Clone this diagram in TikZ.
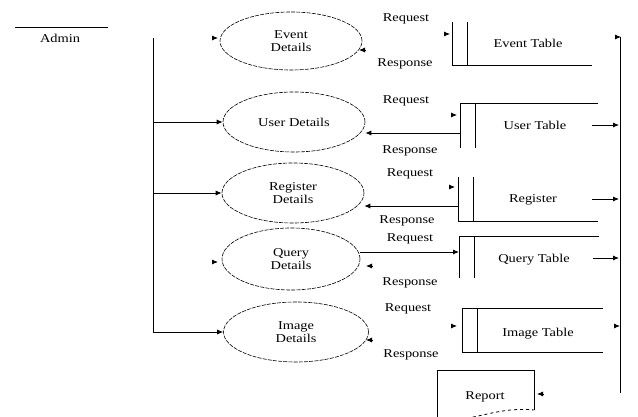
\documentclass[tikz,border=0pt]{standalone}
\usepackage{fontspec}
\setmainfont{Liberation Serif}[FakeStretch=1.2]
\usetikzlibrary{arrows.meta,shapes.geometric}
\begin{document}
\begin{tikzpicture}[x=1pt,y=-1pt,
  line/.style={draw=black,line width=0.8pt},
  arr/.style={line,-{Latex[length=6pt,width=5pt]}},
  proc/.style={ellipse,draw=black,line width=0.6pt,dash pattern=on 4pt off 1.2pt,inner sep=0pt,align=center,font=\fontsize{12}{12.5}\selectfont},
  lbl/.style={anchor=base,inner sep=0pt,font=\fontsize{12}{12}\selectfont}]
\useasboundingbox (0,0) rectangle (638,417);
\clip (0,0) rectangle (638,417);
\fill[white] (0,0) rectangle (638,417);

% Admin
\coordinate (a1) at (15,27);
\coordinate (a2) at (108,27);
\draw[line] (a1) -- (a2);
\node[lbl] (admin) at (60,43) {Admin};

% processes
\node[proc,minimum width=142pt,minimum height=58pt] (ev) at (291,41) {Event\\Details};
\node[proc,minimum width=142pt,minimum height=60pt] (us) at (294,122) {User Details};
\node[proc,minimum width=142pt,minimum height=60pt] (rg) at (293,193) {Register\\Details};
\node[proc,minimum width=138pt,minimum height=62pt] (qu) at (291,259) {Query\\Details};
\node[proc,minimum width=145pt,minimum height=60pt] (im) at (296,332) {Image\\Details};

% left trunk
\coordinate (vtop) at (153,38);
\coordinate (vu) at (153,122);
\coordinate (vr) at (153,193);
\coordinate (vi) at (153,332);
\draw[line] (vtop) -- (vi);
\draw[arr] (vu) -- (us.west);
\draw[arr] (vr) -- (rg.west);
\draw[arr] (vi) -- (im.west);
\coordinate (evl) at (212,38); \coordinate (evlt) at (218,38);
\draw[arr] (evl) -- (evlt);
\coordinate (qul) at (212,262); \coordinate (qult) at (218,262);
\draw[arr] (qul) -- (qult);

% labels
\node[lbl] (rq1) at (406,22) {Request};
\node[lbl] (rs1) at (405,67) {Response};
\node[lbl] (rq2) at (406,104) {Request};
\node[lbl] (rs2) at (410,154) {Response};
\node[lbl] (rq3) at (410,177) {Request};
\node[lbl] (rs3) at (407,224) {Response};
\node[lbl] (rq4) at (410,242) {Request};
\node[lbl] (rs4) at (410,286) {Response};
\node[lbl] (rq5) at (408,311) {Request};
\node[lbl] (rs5) at (411,357) {Response};

% Event Table
\draw[line] (452,22) -- (452,65) -- (592,65);
\draw[line] (467,22) -- (467,65);
\node[lbl] (evt) at (528,48) {Event Table};
% User Table
\draw[line] (598,103) -- (460,103) -- (460,148);
\draw[line] (475,103) -- (475,148);
\node[lbl] (ust) at (535,130) {User Table};
% Register
\draw[line] (458,177) -- (458,221) -- (598,221);
\draw[line] (473,177) -- (473,221);
\node[lbl] (rgt) at (533,203) {Register};
% Query Table
\draw[line] (599,236) -- (459,236) -- (459,278);
\draw[line] (474,236) -- (474,278);
\node[lbl] (qut) at (534,262) {Query Table};
% Image Table
\draw[line] (603,308) -- (462,308) -- (462,352) -- (603,352);
\draw[line] (477,308) -- (477,352);
\node[lbl] (imt) at (538,336) {Image Table};
% Report
\draw[line] (534,410) -- (534,370) -- (437,370) -- (437,420);
\draw[line,dashed] (437,419) .. controls (470,424) and (495,406) .. (534,410);
\node[lbl] (rep) at (485,399) {Report};

% request / response connectors
\coordinate (ut) at (460,133);
\draw[arr] (ut) -- (ut -| us.east);
\coordinate (rt) at (458,206);
\draw[arr] (rt) -- (rt -| rg.east);
\coordinate (qt) at (459,252);
\draw[arr] (qt -| qu.east) -- (qt);

% dangling arrow heads
\coordinate (d1) at (365,50); \coordinate (d1t) at (359,50);
\draw[arr] (d1) -- (d1t);
\coordinate (d2) at (444,34); \coordinate (d2t) at (450,34);
\draw[arr] (d2) -- (d2t);
\coordinate (d3) at (451,115); \coordinate (d3t) at (457,115);
\draw[arr] (d3) -- (d3t);
\coordinate (d4) at (449,187); \coordinate (d4t) at (455,187);
\draw[arr] (d4) -- (d4t);
\coordinate (d5) at (372,266); \coordinate (d5t) at (366,266);
\draw[arr] (d5) -- (d5t);
\coordinate (d6) at (372,340); \coordinate (d6t) at (366,340);
\draw[arr] (d6) -- (d6t);
\coordinate (d7) at (451,326); \coordinate (d7t) at (457,326);
\draw[arr] (d7) -- (d7t);
\coordinate (d8) at (543,394); \coordinate (d8t) at (537,394);
\draw[arr] (d8) -- (d8t);

% right trunk
\coordinate (rtop) at (620,37);
\coordinate (rbot) at (620,393);
\draw[line] (rtop) -- (rbot);
\coordinate (d9) at (615,37); \coordinate (d9t) at (621,37);
\draw[arr] (d9) -- (d9t);
\coordinate (d10) at (614,326); \coordinate (d10t) at (620,326);
\draw[arr] (d10) -- (d10t);
\coordinate (o1) at (592,125); \coordinate (o1t) at (619,125);
\draw[arr] (o1) -- (o1t);
\coordinate (o2) at (592,199); \coordinate (o2t) at (619,199);
\draw[arr] (o2) -- (o2t);
\coordinate (o3) at (593,258); \coordinate (o3t) at (619,258);
\draw[arr] (o3) -- (o3t);
\end{tikzpicture}
\end{document}
